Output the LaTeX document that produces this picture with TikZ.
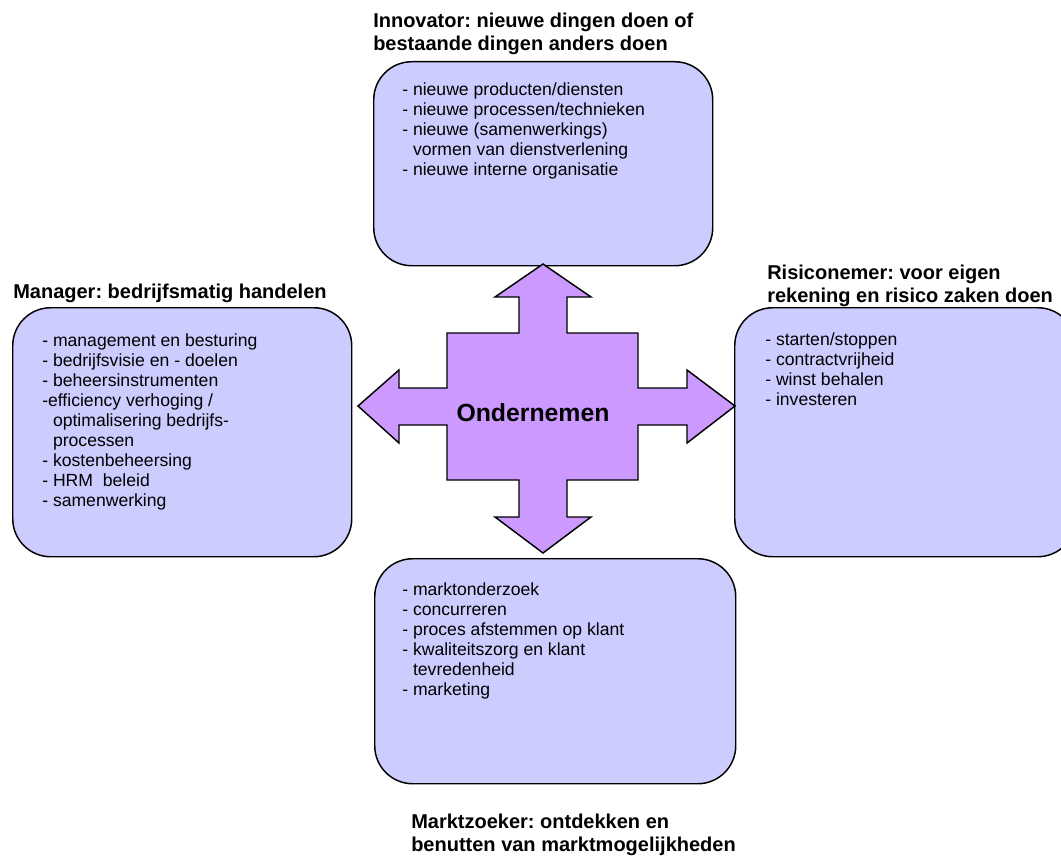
\documentclass[tikz,border=0pt]{standalone}
\usepackage{fontspec}
\setmainfont{Liberation Sans}
\definecolor{boxfill}{HTML}{CCCCFF}
\definecolor{crossfill}{HTML}{CC99FF}
% stacked lines whose baseline is that of the first line
\newcommand\stacklines[1]{\begin{tabular}[t]{@{}l@{}}#1\end{tabular}}
\newcommand\indentline{\hspace*{0.611em}}
\frenchspacing
\begin{document}
\begin{tikzpicture}[x=0.75pt,y=-0.75pt,
  roundbox/.style={draw=black, line width=1.1pt, fill=boxfill,
    rounded corners=28.5pt, anchor=north west, inner sep=0pt},
  heading/.style={anchor=base west, inner sep=0pt,
    font=\fontsize{15}{17.25}\selectfont\bfseries},
  items/.style={anchor=base west, inner sep=0pt,
    font=\fontsize{13.2}{15}\selectfont},
  cross/.style={draw=black, line width=1.1pt, fill=crossfill, line join=miter}]
\useasboundingbox (0,0) rectangle (1061,856);

% the four role boxes
\node[roundbox, minimum width=254.25pt, minimum height=153pt] (innovbox) at (373,61) {};
\node[roundbox, minimum width=254.25pt, minimum height=186.75pt] (managerbox) at (12,307) {};
\node[roundbox, minimum width=255.75pt, minimum height=186.75pt] (riskbox) at (734,307) {};
\node[roundbox, minimum width=270.75pt, minimum height=168.75pt] (marketbox) at (374,558) {};

% central four-way arrow
\path[cross] (543,264) -- (591,297) -- (567,297) -- (567,333) -- (638,333)
  -- (638,388) -- (687,388) -- (687,370) -- (735,406) -- (687,443) -- (687,425)
  -- (638,425) -- (638,480) -- (567,480) -- (567,517) -- (591,517) -- (543,553)
  -- (495,517) -- (519,517) -- (519,480) -- (447,480) -- (447,425) -- (399,425)
  -- (399,443) -- (358,406) -- (399,370) -- (399,388) -- (447,388) -- (447,333)
  -- (519,333) -- (519,297) -- (495,297) -- cycle;
\node[anchor=base, inner sep=0pt, font=\fontsize{18.6}{22}\selectfont\bfseries]
  (center) at (533,421) {Ondernemen};

% headings
\node[heading] (innovtitle) at (373,28)
  {\stacklines{Innovator: nieuwe dingen doen of\\bestaande dingen anders doen}};
\node[heading] (managertitle) at (13,298) {Manager: bedrijfsmatig handelen};
\node[heading] (risktitle) at (767,279)
  {\stacklines{Risiconemer: voor eigen\\rekening en risico zaken doen}};
\node[heading] (markettitle) at (411,828)
  {\stacklines{Marktzoeker: ontdekken en\\benutten van marktmogelijkheden}};

% box contents
\node[items] (innovitems) at (402,96) {\stacklines{%
  - nieuwe producten/diensten\\
  - nieuwe processen/technieken\\
  - nieuwe (samenwerkings)\\
  \indentline vormen van dienstverlening\\
  - nieuwe interne organisatie}};
\node[items] (manageritems) at (42,346) {\stacklines{%
  - management en besturing\\
  - bedrijfsvisie en - doelen\\
  - beheersinstrumenten\\
  -efficiency verhoging /\\
  \indentline optimalisering bedrijfs-\\
  \indentline processen\\
  - kostenbeheersing\\
  - HRM~~beleid\\
  - samenwerking}};
\node[items] (riskitems) at (765,345) {\stacklines{%
  - starten/stoppen\\
  - contractvrijheid\\
  - winst behalen\\
  - investeren}};
\node[items] (marketitems) at (402,595) {\stacklines{%
  - marktonderzoek\\
  - concurreren\\
  - proces afstemmen op klant\\
  - kwaliteitszorg en klant\\
  \indentline tevredenheid\\
  - marketing}};
\end{tikzpicture}
\end{document}
